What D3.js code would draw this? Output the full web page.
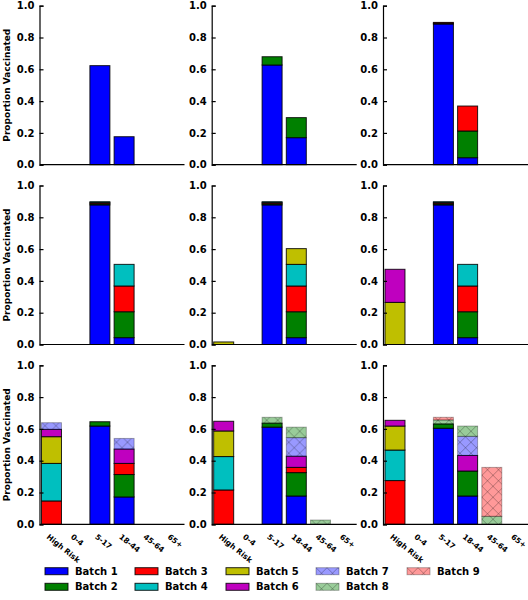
<!DOCTYPE html>
<html><head><meta charset="utf-8">
<script src="https://cdn.jsdelivr.net/npm/d3@7"></script>
<style>body{margin:0;background:#fff}svg{display:block}text{font-family:"DejaVu Sans",sans-serif;font-weight:bold}</style>
</head><body>
<script>
const categories = ["High Risk","0-4","5-17","18-44","45-64","65+"];
const batches = ["Batch 1","Batch 2","Batch 3","Batch 4","Batch 5","Batch 6","Batch 7","Batch 8","Batch 9"];
const batchColors = ["#0000ff","#008000","#ff0000","#00bfbf","#bfbf00","#bf00bf","#0000ff","#008000","#ff0000"];
const batchHatched = [false,false,false,false,false,false,true,true,true];
const yTicks = [0,0.2,0.4,0.6,0.8,1.0];

// rows = batches, columns = categories
const panel1 = [
  [0,0,0.623,0.176,0,0]
];
const panel2 = [
  [0,0,0.627,0.170,0,0],
  [0,0,0.052,0.126,0,0]
];
const panel3 = [
  [0,0,0.885,0.044,0,0],
  [0,0,0.005,0.168,0,0],
  [0,0,0.005,0.157,0,0]
];
const panel4 = [
  [0,0,0.878,0.043,0,0],
  [0,0,0.007,0.163,0,0],
  [0,0,0.007,0.162,0,0],
  [0,0,0.006,0.136,0,0]
];
const panel5 = [
  [0,0,0.878,0.043,0,0],
  [0,0,0.007,0.163,0,0],
  [0,0,0.007,0.162,0,0],
  [0,0,0.006,0.136,0,0],
  [0.016,0,0,0.099,0,0]
];
const panel6 = [
  [0,0,0.878,0.043,0,0],
  [0,0,0.007,0.163,0,0],
  [0,0,0.007,0.162,0,0],
  [0,0,0.006,0.136,0,0],
  [0.265,0,0,0,0,0],
  [0.208,0,0,0,0,0]
];
const panel7 = [
  [0,0,0.618,0.172,0,0],
  [0,0,0.027,0.141,0,0],
  [0.147,0,0,0.070,0,0],
  [0.236,0,0,0,0,0],
  [0.168,0,0,0,0,0],
  [0.046,0,0,0.090,0,0],
  [0.042,0,0,0.067,0,0]
];
const panel8 = [
  [0,0,0.611,0.178,0,0],
  [0,0,0.025,0.147,0,0],
  [0.216,0,0,0.033,0,0],
  [0.210,0,0,0,0,0],
  [0.161,0,0,0,0,0],
  [0.061,0,0,0.070,0,0],
  [0,0,0,0.117,0,0],
  [0,0,0.037,0.066,0.027,0]
];
const panel9 = [
  [0,0,0.604,0.178,0,0],
  [0,0,0.027,0.157,0,0],
  [0.275,0,0,0,0,0],
  [0.192,0,0,0,0,0],
  [0.151,0,0,0,0,0],
  [0.036,0,0,0.098,0,0],
  [0,0,0,0.120,0,0],
  [0,0,0.025,0.065,0.050,0],
  [0,0,0.017,0,0.308,0]
];
const panels = [panel1,panel2,panel3,panel4,panel5,panel6,panel7,panel8,panel9];

const colX = [39.5, 211.7, 383];
const rowTop = [5.7, 185.5, 365.3];
const PW = 145, PH = 159;

const svg = d3.select("body").append("svg").attr("width",528).attr("height",600);
const defs = svg.append("defs");
const pat = defs.append("pattern").attr("id","hatchx").attr("patternUnits","userSpaceOnUse")
  .attr("width",11).attr("height",11);
pat.append("path").attr("d","M0,0L11,11M0,11L11,0M-1,1L1,-1M10,12L12,10")
  .attr("stroke","#000").attr("stroke-opacity",0.35).attr("stroke-width",0.8).attr("fill","none");

const x = d3.scaleBand().domain(categories).range([0,PW]).paddingInner(0.174).paddingOuter(0.082);
const y = d3.scaleLinear().domain([0,1]).range([PH,0]);

panels.forEach((data,pi)=>{
  const r = Math.floor(pi/3), c = pi%3;
  const g = svg.append("g").attr("transform",`translate(${colX[c]},${rowTop[r]})`);
  const rows = categories.map((cat,ci)=>{
    const o = {cat};
    batches.forEach((b,bi)=>{ o[b] = data[bi] ? data[bi][ci] : 0; });
    return o;
  });
  const series = d3.stack().keys(batches)(rows);
  series.forEach((s,bi)=>{
    const segs = s.filter(d=>d[1]-d[0]>0);
    const hatched = batchHatched[bi];
    const sel = g.selectAll(null).data(segs).enter();
    sel.append("rect")
      .attr("x",d=>x(d.data.cat)).attr("width",x.bandwidth())
      .attr("y",d=>y(d[1])).attr("height",d=>y(d[0])-y(d[1]))
      .attr("fill",batchColors[bi]).attr("fill-opacity",hatched?0.4:1)
      .attr("stroke","#000").attr("stroke-opacity",hatched?0.3:0.85).attr("stroke-width",1);
    if(hatched){
      sel.append("rect")
        .attr("x",d=>x(d.data.cat)).attr("width",x.bandwidth())
        .attr("y",d=>y(d[1])).attr("height",d=>y(d[0])-y(d[1]))
        .attr("fill","url(#hatchx)");
    }
  });
  const ya = g.append("g").call(d3.axisLeft(y).tickValues(yTicks).tickFormat(d3.format(".1f")).tickSize(-4).tickPadding(4));
  ya.select(".domain").attr("stroke","#000").attr("stroke-width",1.2);
  ya.selectAll(".tick line").attr("stroke","#000").attr("stroke-width",1.2);
  ya.selectAll("text").attr("font-size",10).attr("fill","#000").attr("font-family","DejaVu Sans").attr("font-weight","bold").attr("dx",-1);
  const xa = g.append("g").attr("transform",`translate(0,${PH})`).call(d3.axisBottom(x).tickSize(0).tickPadding(0).tickFormat(r===2?(d=>d):(d=>"")));
  xa.select(".domain").attr("stroke","#000").attr("stroke-width",1.2).attr("d",`M0.5,0H${PW}`);
  xa.selectAll("text").attr("font-size",7.6).attr("fill","#000").attr("font-family","DejaVu Sans").attr("font-weight","bold")
    .attr("text-anchor","start").attr("dy",null).attr("y",null)
    .attr("dominant-baseline","hanging")
    .attr("transform","translate(-2,9) rotate(39)");
  if(c===0){
    g.append("text").attr("transform",`translate(${-33},${PH/2}) rotate(-90)`)
      .attr("text-anchor","middle").attr("dominant-baseline","central")
      .attr("font-size",9).attr("fill","#000").text("Proportion Vaccinated");
  }
});

const legX = [45, 135, 226, 316, 407];
const legY = [567.7, 583.3];
batches.forEach((b,bi)=>{
  const col = Math.floor(bi/2), row = bi%2;
  const lg = svg.append("g").attr("transform",`translate(${legX[col]},${legY[row]})`);
  const hatched = batchHatched[bi];
  lg.append("rect").attr("x",0).attr("y",0).attr("width",23).attr("height",7)
    .attr("fill",batchColors[bi]).attr("fill-opacity",hatched?0.4:1)
    .attr("stroke","#000").attr("stroke-opacity",hatched?0.3:0.85);
  if(hatched) lg.append("rect").attr("width",23).attr("height",7).attr("fill","url(#hatchx)");
  lg.append("text").attr("x",30).attr("y",3.5).attr("dominant-baseline","central")
    .attr("font-size",10).attr("fill","#000").text(b);
});
</script>
</body></html>
